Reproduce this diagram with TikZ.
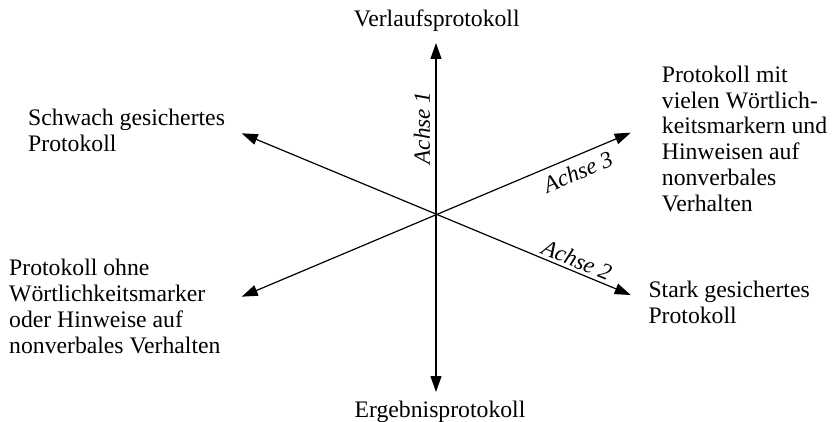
\documentclass[tikz,border=0pt]{standalone}
\usepackage{fontspec}
\setmainfont{Liberation Serif}
\usetikzlibrary{arrows.meta}
\begin{document}
\begin{tikzpicture}[x=1pt,y=-1pt,
  axis/.style={line width=1.2pt,{Triangle[length=16pt,width=11pt]}-{Triangle[length=16pt,width=11pt]}},
  lbl/.style={inner sep=0pt,font=\fontsize{23.7}{25.8}\selectfont,align=left},
  axlbl/.style={inner sep=0pt,font=\fontsize{23.2}{25}\selectfont\itshape}]
\useasboundingbox (0,0) rectangle (840,422);
% axis end points
\coordinate (v1) at (436,43);
\coordinate (v2) at (436,392);
\coordinate (a2s) at (241.7,133.3);
\coordinate (a2e) at (630.7,295);
\coordinate (a3s) at (241.7,296.7);
\coordinate (a3e) at (630.7,132.7);
\draw[axis] (v2) -- (v1);
\draw[axis] (a2s) -- (a2e);
\draw[axis] (a3s) -- (a3e);
% labels
\node[lbl,anchor=base] (top) at (436.7,26.7) {Verlaufsprotokoll};
\node[lbl,anchor=base] (bot) at (440,417) {Ergebnisprotokoll};
\node[lbl,anchor=north west] (ul) at (28,109) {Schwach gesichertes\\Protokoll};
\node[lbl,anchor=north west] (ll) at (9,259) {Protokoll ohne\\Wörtlichkeitsmarker\\oder Hinweise auf\\nonverbales Verhalten};
\node[lbl,anchor=north west] (ur) at (661.7,65.7) {Protokoll mit\\vielen Wörtlich-\\keitsmarkern und\\Hinweisen auf\\nonverbales\\Verhalten};
\node[lbl,anchor=north west] (lr) at (648.3,280.7) {Stark gesichertes\\Protokoll};
\node[axlbl,rotate=90] (ax1) at (422,128) {Achse 1};
\node[axlbl,rotate=22.6] (ax3) at (578,172) {Achse 3};
\node[axlbl,rotate=-22.6] (ax2) at (577,260) {Achse 2};
\end{tikzpicture}
\end{document}
